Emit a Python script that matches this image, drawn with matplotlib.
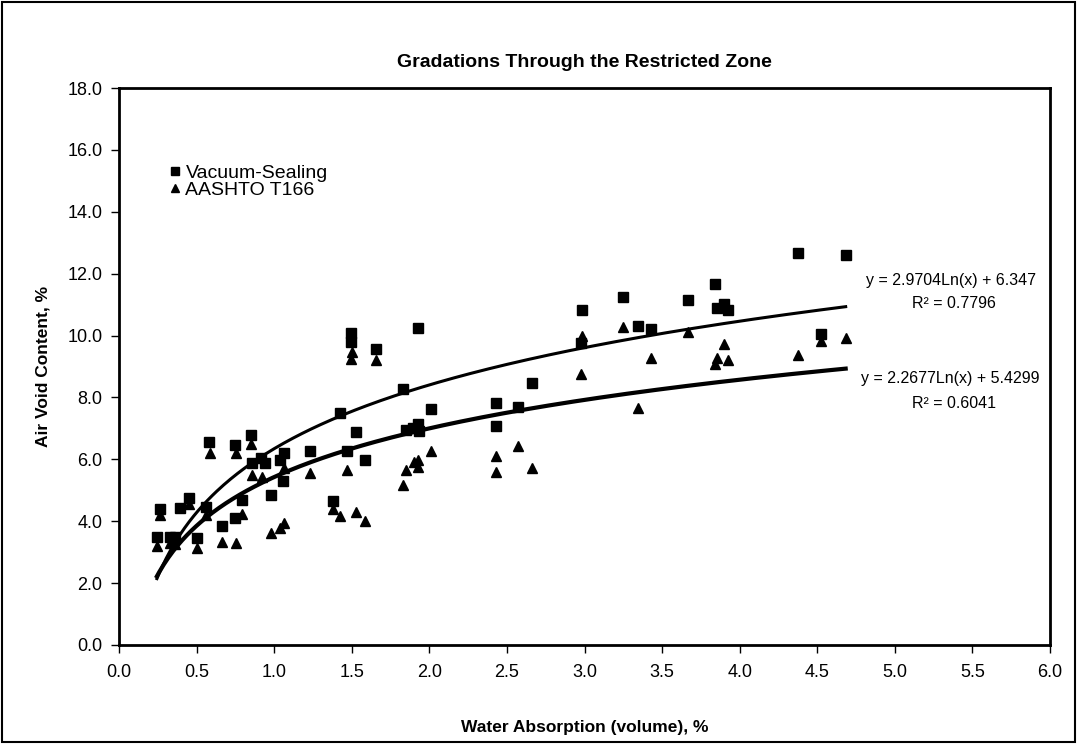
import numpy as np
import matplotlib.pyplot as plt
from matplotlib.patches import Rectangle

plt.rcParams['font.family'] = ['Liberation Sans', 'DejaVu Sans']

# Vacuum-Sealing (squares)
vs_x = [0.243, 0.260, 0.329, 0.361, 0.393, 0.447, 0.501, 0.561, 0.576, 0.662,
        0.748, 0.748, 0.790, 0.852, 0.856, 0.917, 0.942, 0.980, 1.039, 1.061,
        1.057, 1.233, 1.378, 1.422, 1.466, 1.492, 1.492, 1.525, 1.584, 1.654,
        1.827, 1.847, 1.891, 1.927, 1.933, 1.927, 2.009, 2.429, 2.429, 2.570,
        2.660, 2.978, 2.985, 3.248, 3.345, 3.425, 3.664, 3.841, 3.851, 3.900,
        3.923, 4.375, 4.525, 4.683]
vs_y = [3.48, 4.40, 3.48, 3.48, 4.42, 4.76, 3.45, 4.45, 6.55, 3.84,
        6.47, 4.09, 4.69, 6.80, 5.89, 6.03, 5.89, 4.85, 5.98, 6.21,
        5.30, 6.27, 4.65, 7.51, 6.27, 10.07, 9.80, 6.87, 5.98, 9.56,
        8.27, 6.95, 7.00, 7.13, 6.93, 10.24, 7.62, 7.83, 7.08, 7.68,
        8.48, 9.77, 10.81, 11.26, 10.32, 10.21, 11.15, 11.67, 10.88, 11.01,
        10.83, 12.66, 10.04, 12.59]

# AASHTO T166 (triangles)
aa_x = [0.243, 0.260, 0.329, 0.361, 0.447, 0.501, 0.561, 0.582, 0.662, 0.753,
        0.753, 0.790, 0.852, 0.856, 0.922, 0.980, 1.039, 1.061, 1.061, 1.233,
        1.378, 1.422, 1.466, 1.503, 1.492, 1.525, 1.584, 1.654, 1.830, 1.849,
        1.902, 1.927, 1.927, 2.009, 2.429, 2.429, 2.570, 2.660, 2.978, 2.985,
        3.248, 3.345, 3.425, 3.664, 3.841, 3.854, 3.900, 3.923, 4.375, 4.525,
        4.683]
aa_y = [3.20, 4.20, 3.30, 3.25, 4.56, 3.12, 4.20, 6.22, 3.34, 6.22,
        3.30, 4.24, 6.50, 5.49, 5.44, 3.61, 3.77, 3.95, 5.71, 5.55,
        4.40, 4.17, 5.66, 9.48, 9.23, 4.29, 4.01, 9.22, 5.16, 5.66,
        5.92, 5.98, 5.74, 6.27, 6.11, 5.60, 6.43, 5.71, 8.75, 9.99,
        10.29, 7.65, 9.27, 10.11, 9.08, 9.29, 9.72, 9.21, 9.37, 9.84,
        9.91]

# log trendlines y = a*ln(x) + b
vs_a, vs_b = 2.9704, 6.347
aa_a, aa_b = 2.2677, 5.4299

fig = plt.figure(figsize=(10.78, 7.44), dpi=100)
ax = fig.add_axes([0.1106, 0.1331, 0.8634, 0.7486])

ax.plot(vs_x, vs_y, 's', color='black', markersize=6.5, label='Vacuum-Sealing', zorder=3)
ax.plot(aa_x, aa_y, '^', color='black', markersize=7, label='AASHTO T166', zorder=3)

xs = np.linspace(min(vs_x), max(vs_x), 300)
ax.plot(xs, vs_a * np.log(xs) + vs_b, color='black', lw=2.2, zorder=2)
xs2 = np.linspace(min(aa_x), max(aa_x), 300)
ax.plot(xs2, aa_a * np.log(xs2) + aa_b, color='black', lw=3.0, zorder=2)

ax.text(5.36, 11.78, 'y = 2.9704Ln(x) + 6.347', ha='center', va='center', fontsize=11.5)
ax.text(5.38, 11.03, 'R² = 0.7796', ha='center', va='center', fontsize=11.5)
ax.text(5.36, 8.62, 'y = 2.2677Ln(x) + 5.4299', ha='center', va='center', fontsize=11.5)
ax.text(5.38, 7.82, 'R² = 0.6041', ha='center', va='center', fontsize=11.5)

ax.set_xlim(0, 6)
ax.set_ylim(0, 18)
ax.set_xticks(np.arange(0, 6.01, 0.5))
ax.set_yticks(np.arange(0, 18.01, 2))
ax.xaxis.set_major_formatter(plt.FormatStrFormatter('%.1f'))
ax.yaxis.set_major_formatter(plt.FormatStrFormatter('%.1f'))
ax.tick_params(direction='out', length=6, width=1, labelsize=13)
ax.tick_params(axis='x', pad=8)
ax.tick_params(axis='y', pad=6)
for s in ax.spines.values():
    s.set_linewidth(2)

ax.set_xlabel('Water Absorption (volume), %', fontsize=12.5, fontweight='bold', labelpad=28)
ax.set_ylabel('Air Void Content, %', fontsize=12.5, fontweight='bold', labelpad=12)
ax.set_title('Gradations Through the Restricted Zone', fontsize=14, fontweight='bold', pad=15)

ax.legend(loc='upper left', bbox_to_anchor=(0.044, 0.881), frameon=False, fontsize=14,
          markerscale=0.8, handlelength=0.5, handletextpad=0.3, labelspacing=0.0,
          borderpad=0)

fig.patches.append(Rectangle((0.002, 0.003), 0.995, 0.994, transform=fig.transFigure,
                             fill=False, edgecolor='black', lw=1.5))

fig.savefig('out.png', dpi=100)
